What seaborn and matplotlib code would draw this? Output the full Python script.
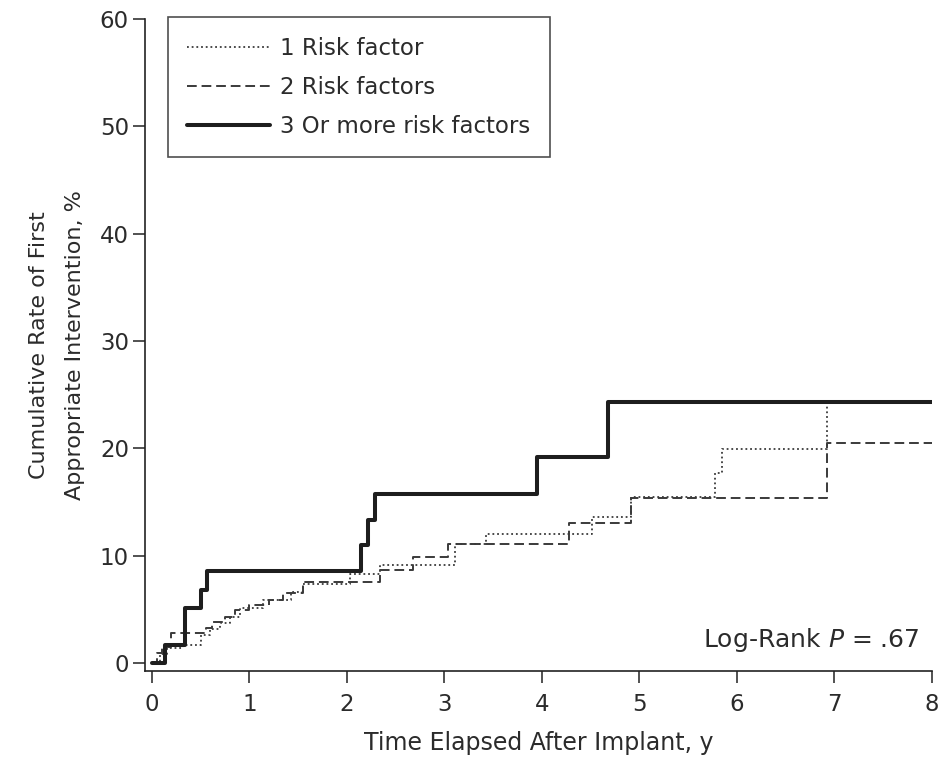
import matplotlib
matplotlib.use("Agg")
import matplotlib.pyplot as plt
import seaborn as sns
import pandas as pd

# Step-function estimates of cumulative event rate (%) by risk-factor group
t_one = [0, 0.08, 0.15, 0.32, 0.50, 0.60, 0.70, 0.80, 0.90, 1.14, 1.43, 1.55,
         2.03, 2.34, 3.11, 3.43, 4.52, 4.92, 5.78, 5.85, 6.93, 8.0]
y_one = [0, 0.8, 1.4, 1.7, 2.6, 3.2, 3.7, 4.3, 5.1, 5.9, 6.6, 7.4,
         8.3, 9.1, 11.1, 12.0, 13.6, 15.5, 17.7, 19.9, 24.3, 24.3]

t_two = [0, 0.05, 0.10, 0.20, 0.55, 0.62, 0.75, 0.85, 1.00, 1.20, 1.35, 1.55,
         2.34, 2.68, 3.04, 4.28, 4.92, 6.93, 8.0]
y_two = [0, 0.9, 1.5, 2.8, 3.3, 3.8, 4.3, 4.9, 5.4, 5.9, 6.5, 7.5,
         8.7, 9.9, 11.1, 13.0, 15.4, 20.5, 20.5]

t_three = [0, 0.13, 0.34, 0.50, 0.56, 2.15, 2.22, 2.29, 3.95, 4.68, 8.0]
y_three = [0, 1.7, 5.1, 6.8, 8.6, 11.0, 13.3, 15.7, 19.2, 24.3, 24.3]

group_labels = ["1 Risk factor", "2 Risk factors", "3 Or more risk factors"]
x_ticks = [0, 1, 2, 3, 4, 5, 6, 7, 8]
y_ticks = [0, 10, 20, 30, 40, 50, 60]

sns.set_style("ticks")
plt.rcParams["font.family"] = ["DejaVu Sans"]
plt.rcParams["mathtext.fontset"] = "custom"
plt.rcParams["mathtext.rm"] = "DejaVu Sans"
plt.rcParams["mathtext.it"] = "DejaVu Sans:italic"

text_color = "#2b2b2b"
fs = 16.5

fig = plt.figure(figsize=(9.41, 7.62), dpi=100)
ax = fig.add_axes([0.154, 0.1194, 0.836, 0.8556])

styles = [
    dict(color="#3a3a3a", linestyle=(0, (1, 1.6)), linewidth=1.3, zorder=2),
    dict(color="#3a3a3a", linestyle=(0, (5, 2.5)), linewidth=1.4, zorder=3),
    dict(color="#1e1e1e", linestyle="-", linewidth=2.9, zorder=4),
]
series = [(t_one, y_one), (t_two, y_two), (t_three, y_three)]

for (tt, yy), lab, st in zip(series, group_labels, styles):
    df = pd.DataFrame({"t": tt, "rate": yy})
    sns.lineplot(data=df, x="t", y="rate", ax=ax, estimator=None, sort=False,
                 drawstyle="steps-post", legend=False, label=lab, **st)

ax.set_xlim(-0.072, 8)
ax.set_ylim(-0.75, 60)
ax.set_xticks(x_ticks)
ax.set_yticks(y_ticks)
ax.tick_params(axis="both", direction="out", length=8.5, width=1.1,
               colors="#222222", labelsize=fs, labelcolor=text_color)
ax.tick_params(axis="x", pad=7)
ax.tick_params(axis="y", pad=3)
for side in ["top", "right"]:
    ax.spines[side].set_visible(False)
for side in ["left", "bottom"]:
    ax.spines[side].set_linewidth(1.2)
    ax.spines[side].set_color("#222222")

ax.set_xlabel("Time Elapsed After Implant, y", fontsize=17, color=text_color,
              labelpad=11)
ax.set_ylabel("Cumulative Rate of First\nAppropriate Intervention, %",
              fontsize=16, color=text_color, labelpad=11, linespacing=2.0)

leg = ax.legend(loc="upper left", bbox_to_anchor=(0.029, 1.003), fontsize=fs,
                frameon=True, fancybox=False, edgecolor="#222222",
                handlelength=3.6, handletextpad=0.45, borderpad=0.85,
                labelspacing=0.7, borderaxespad=0.0)
leg.get_frame().set_linewidth(1.2)
for txt in leg.get_texts():
    txt.set_color(text_color)

ax.text(0.985, 0.048, "Log-Rank $P$ = .67", transform=ax.transAxes,
        ha="right", va="center", fontsize=18, color=text_color)

fig.savefig("out.png", dpi=100, facecolor="white")
